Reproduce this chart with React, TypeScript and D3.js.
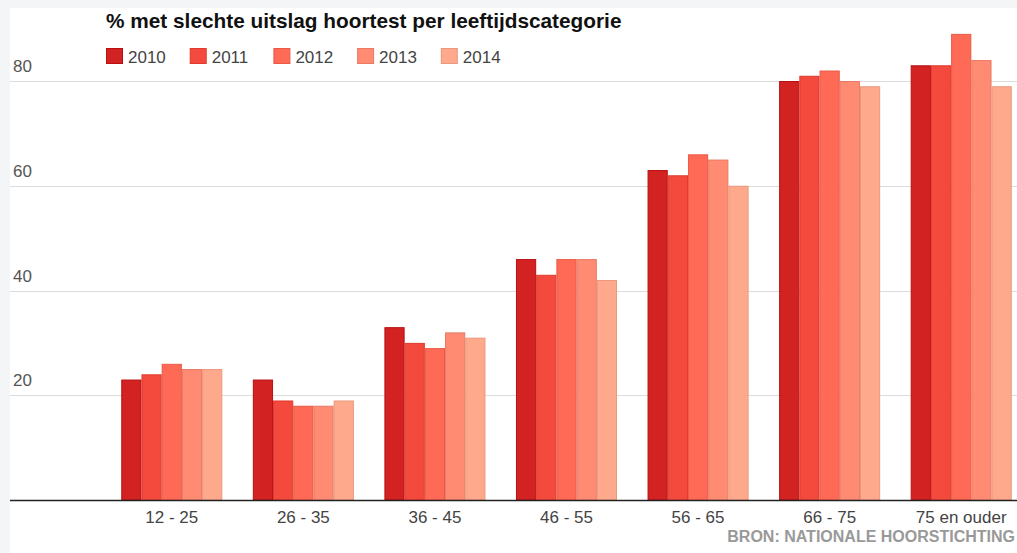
import React, { useRef, useEffect } from 'react';
import * as d3 from 'd3';

const categories = ['12 - 25', '26 - 35', '36 - 45', '46 - 55', '56 - 65', '66 - 75', '75 en ouder'];
const years = ['2010', '2011', '2012', '2013', '2014'];
const v2010 = [23, 23, 33, 46, 63, 80, 83];
const v2011 = [24, 19, 30, 43, 62, 81, 83];
const v2012 = [26, 18, 29, 46, 66, 82, 89];
const v2013 = [25, 18, 32, 46, 65, 80, 84];
const v2014 = [25, 19, 31, 42, 60, 79, 79];
const yTicks = [20, 40, 60, 80];

const fills = ['#d32222', '#f44a3d', '#fe6a55', '#fe8b72', '#fea98c'];
const strokes = ['#b80f12', '#de3a2e', '#e85a47', '#e87a64', '#ea987d'];

const W = 1017;
const H = 553;

const App: React.FC = () => {
  const ref = useRef<SVGSVGElement>(null);

  useEffect(() => {
    if (!ref.current) return;
    const svg = d3.select(ref.current);
    svg.selectAll('*').remove();

    const series = [v2010, v2011, v2012, v2013, v2014];
    const font = 'Arial, "Liberation Sans", sans-serif';

    // page frame
    svg.append('rect').attr('width', W).attr('height', H).attr('fill', '#f4f5f7');
    svg.append('rect').attr('x', 10).attr('y', 8).attr('width', W - 10).attr('height', H - 8).attr('fill', '#fff');

    const y = d3.scaleLinear().domain([0, 80]).range([500, 81]);
    const x0 = d3.scaleBand<string>()
      .domain(categories)
      .range([106, 1027])
      .paddingInner(0.232)
      .paddingOuter(0.116);
    const x1 = d3.scaleBand<string>()
      .domain(years)
      .range([0, x0.bandwidth()]);

    // grid
    svg.append('g')
      .selectAll('line')
      .data(yTicks)
      .enter()
      .append('line')
      .attr('x1', 10)
      .attr('x2', W)
      .attr('y1', d => Math.round(y(d)) + 0.5)
      .attr('y2', d => Math.round(y(d)) + 0.5)
      .attr('stroke', '#dcdcdc')
      .attr('stroke-width', 1);

    svg.append('g')
      .selectAll('text')
      .data(yTicks)
      .enter()
      .append('text')
      .attr('x', 13)
      .attr('y', d => y(d) - 9)
      .attr('font-family', font)
      .attr('font-size', 17)
      .attr('fill', '#555')
      .text(d => d);

    // bars
    categories.forEach((cat, ci) => {
      const g = svg.append('g').attr('transform', `translate(${x0(cat)},0)`);
      years.forEach((yr, si) => {
        const v = series[si][ci];
        g.append('rect')
          .attr('x', x1(yr)! + 0.5)
          .attr('y', y(v) + 0.5)
          .attr('width', x1.bandwidth() - 1)
          .attr('height', y(0) - y(v) - 0.5)
          .attr('fill', fills[si])
          .attr('stroke', strokes[si])
          .attr('stroke-width', 1);
      });
    });

    // baseline
    svg.append('line')
      .attr('x1', 10)
      .attr('x2', W)
      .attr('y1', 500.5)
      .attr('y2', 500.5)
      .attr('stroke', '#222')
      .attr('stroke-width', 1.5);

    // x labels
    svg.append('g')
      .selectAll('text')
      .data(categories)
      .enter()
      .append('text')
      .attr('x', d => x0(d)! + x0.bandwidth() / 2)
      .attr('y', 523)
      .attr('text-anchor', 'middle')
      .attr('font-family', font)
      .attr('font-size', 17)
      .attr('fill', '#444')
      .text(d => d);

    // title
    svg.append('text')
      .attr('x', 106)
      .attr('y', 28)
      .attr('font-family', font)
      .attr('font-size', 20.8)
      .attr('font-weight', 'bold')
      .attr('fill', '#111')
      .text('% met slechte uitslag hoortest per leeftijdscategorie');

    // legend
    const leg = svg.append('g');
    years.forEach((yr, i) => {
      const lx = 106 + i * 83.7;
      leg.append('rect')
        .attr('x', lx + 0.5)
        .attr('y', 48.5)
        .attr('width', 16)
        .attr('height', 15)
        .attr('fill', fills[i])
        .attr('stroke', strokes[i]);
      leg.append('text')
        .attr('x', lx + 22)
        .attr('y', 63)
        .attr('font-family', font)
        .attr('font-size', 17)
        .attr('fill', '#444')
        .text(yr);
    });

    // source
    svg.append('text')
      .attr('x', 1015)
      .attr('y', 542)
      .attr('text-anchor', 'end')
      .attr('font-family', font)
      .attr('font-size', 16)
      .attr('font-weight', 'bold')
      .attr('fill', '#999')
      .text('BRON: NATIONALE HOORSTICHTING');
  }, []);

  return (
    <div style={{ position: 'absolute', left: 0, top: 0, width: W, height: H }}>
      <svg ref={ref} width={W} height={H} style={{ display: 'block' }} />
    </div>
  );
};

export default App;
